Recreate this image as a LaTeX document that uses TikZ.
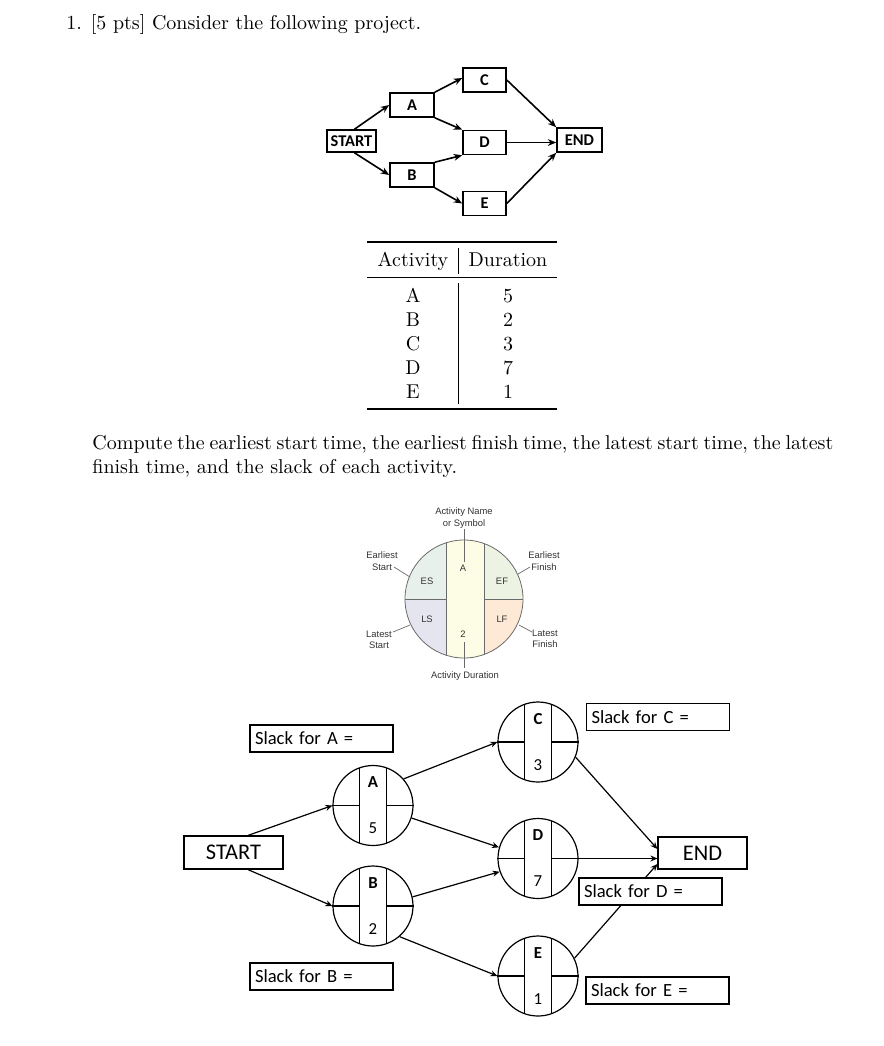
\documentclass[tikz,border=0pt]{standalone}
\usepackage{fontspec}
\newfontfamily\calib{Carlito}
\newfontfamily\arialf{Liberation Sans}
\usetikzlibrary{arrows.meta,calc}
\definecolor{esc}{HTML}{E7F0EA}
\definecolor{lsc}{HTML}{E5E5F0}
\definecolor{ctc}{HTML}{FDFDE6}
\definecolor{efc}{HTML}{EDF3E2}
\definecolor{lfc}{HTML}{FDE9D5}
\definecolor{legline}{HTML}{6A6A6A}
\definecolor{legtext}{HTML}{333333}
\newcommand\actcirc[5]{%
  \node[actc] (#1) at (#2,#3) {};
  \draw[thinl] ({#2-13.5},{#3-37.6}) -- ({#2-13.5},{#3+37.6});
  \draw[thinl] ({#2+13.5},{#3-37.6}) -- ({#2+13.5},{#3+37.6});
  \draw[thinl] (#1.west) -- ({#2-13.5},#3);
  \draw[thinl] ({#2+13.5},#3) -- (#1.east);
  \node[cletter] (#1n) at (#2,{#3-23}) {#4};
  \node[cnum] (#1d) at (#2,{#3+23}) {#5};
}
\begin{document}
\begin{tikzpicture}[x=0.5pt,y=-0.5pt,
  topbox/.style={draw, line width=0.8pt, minimum width=22pt, minimum height=12pt, inner sep=0pt, font=\calib\bfseries\fontsize{8.2}{9}\selectfont},
  tarrow/.style={line width=0.8pt, -{Stealth[length=4.2pt,width=3.4pt]}},
  botbox/.style={draw, line width=0.6pt, inner sep=0pt, font=\calib\fontsize{11.2}{13}\selectfont},
  slackbox/.style={draw, fill=white, line width=0.6pt, text width=66.5pt, inner xsep=2.5pt, inner ysep=0pt, minimum height=13.5pt, align=left, font=\calib\fontsize{9.3}{11}\selectfont},
  actc/.style={draw, circle, line width=0.6pt, minimum size=40pt, inner sep=0pt},
  thinl/.style={line width=0.55pt},
  cletter/.style={inner sep=0pt, font=\calib\bfseries\fontsize{8.4}{9}\selectfont},
  cnum/.style={inner sep=0pt, font=\calib\fontsize{8.4}{9}\selectfont},
  barrow/.style={line width=0.6pt, -{Stealth[length=3.5pt,width=3pt]}},
  legt/.style={inner sep=0pt, align=center, text=legtext, font=\arialf\fontsize{4.7}{5.7}\selectfont},
  legl/.style={draw=legline, line width=0.35pt},
  tabt/.style={anchor=base, inner sep=0pt},
]
\useasboundingbox (0,0) rectangle (884,1046);

% ---------- title ----------
\node[anchor=base west, inner sep=0pt] (title) at (66,29) {1. [5 pts] Consider the following project.};

% ---------- top network ----------
\node[topbox, minimum width=24.5pt, minimum height=11pt] (tS) at (351.5,141) {START};
\node[topbox] (tA) at (412,105) {A};
\node[topbox] (tB) at (412,175) {B};
\node[topbox, minimum width=21.5pt] (tC) at (484.5,80) {C};
\node[topbox, minimum width=21.5pt] (tD) at (484.5,142.5) {D};
\node[topbox, minimum width=21.5pt] (tE) at (484.5,203.5) {E};
\node[topbox, minimum width=22.5pt] (tEnd) at (579.5,140) {END};
\draw[tarrow] ($(tS.north)+(3,0)$) -- (tA.west);
\draw[tarrow] ($(tS.south)+(3,0)$) -- (tB.west);
\draw[tarrow] (tA.north east) -- ($(tC.west)+(0,-2)$);
\draw[tarrow] (tA.south east) -- (tD.north west);
\draw[tarrow] (tB.north east) -- (tD.south west);
\draw[tarrow] (tB.south east) -- (tE.west);
\draw[tarrow] (tC.east) -- (tEnd.north west);
\draw[tarrow] (tD.east) -- (tD.east -| tEnd.west);
\draw[tarrow] (tE.east) -- (tEnd.south west);

% ---------- table ----------
\draw[line width=0.8pt] (367,242) -- (557,242);
\draw[line width=0.5pt] (367,277) -- (557,277);
\draw[line width=0.8pt] (367,409) -- (557,409);
\draw[line width=0.4pt] (458,248) -- (458,274);
\draw[line width=0.4pt] (458,283) -- (458,404);
\node[tabt] (hAct) at (413,266) {Activity};
\node[tabt] (hDur) at (508,266) {Duration};
\node[tabt] (rA) at (413,302) {A};  \node[tabt] (dA) at (508,302) {5};
\node[tabt] (rB) at (413,326) {B};  \node[tabt] (dB) at (508,326) {2};
\node[tabt] (rC) at (413,350) {C};  \node[tabt] (dC) at (508,350) {3};
\node[tabt] (rD) at (413,374) {D};  \node[tabt] (dD) at (508,374) {7};
\node[tabt] (rE) at (413,398) {E};  \node[tabt] (dE) at (508,398) {1};

% ---------- paragraph ----------
\node[anchor=base west, inner sep=0pt] (p1) at (92,449) {\makebox[370.5pt][s]{Compute the earliest start time, the earliest finish time, the latest start time, the latest}};
\node[anchor=base west, inner sep=0pt] (p2) at (92,473) {finish time, and the slack of each activity.};

% ---------- legend circle ----------
\begin{scope}
  \clip (464,599) circle (59);
  \fill[esc] (400,535) rectangle (446,599);
  \fill[lsc] (400,599) rectangle (446,663);
  \fill[ctc] (446,535) rectangle (484,663);
  \fill[efc] (484,535) rectangle (528,599);
  \fill[lfc] (484,599) rectangle (528,663);
\end{scope}
\node[circle, draw=legline, line width=0.4pt, minimum size=59pt, inner sep=0pt] (leg) at (464,599) {};
\draw[legl] (446,{599-56.2}) -- (446,{599+56.2});
\draw[legl] (484,{599-55.5}) -- (484,{599+55.5});
\draw[legl] (leg.west) -- (446,599);
\draw[legl] (484,599) -- (leg.east);
\node[legt] (lA) at (463,568) {A};
\node[legt] (l2) at (463,634) {2};
\node[legt] (lES) at (427,581) {ES};
\node[legt] (lLS) at (427,619) {LS};
\node[legt] (lEF) at (502,581) {EF};
\node[legt] (lLF) at (502,619) {LF};
\node[legt] (lName) at (464,518) {Activity Name\\or Symbol};
\node[legt] (lDur) at (465,676) {Activity Duration};
\node[legt] (lESt) at (382,561) {Earliest\\Start};
\node[legt] (lEFt) at (544,561) {Earliest\\Finish};
\node[legt] (lLSt) at (379,640) {Latest\\Start};
\node[legt] (lLFt) at (545,639) {Latest\\Finish};
\draw[legl] (464,529) -- (464,562);
\draw[legl] (464,642) -- (464,668);
\draw[legl] (394,567) -- (410,577);
\draw[legl] (530,567) -- (518,574);
\draw[legl] (393,632) -- (410,625);
\draw[legl] (532,632) -- (519,625);

% ---------- bottom network ----------
\node[botbox, minimum width=49.5pt, minimum height=16.5pt] (bS) at (233.5,852.5) {START};
\node[botbox, minimum width=44.5pt, minimum height=16pt] (bEnd) at (702.5,853) {END};
\actcirc{bA}{373}{805.5}{A}{5}
\actcirc{bB}{373}{906}{B}{2}
\actcirc{bC}{538}{742}{C}{3}
\actcirc{bD}{538}{858.5}{D}{7}
\actcirc{bE}{538}{976}{E}{1}
\draw[barrow] ($(bS.north)+(14.5,0)$) -- (bA.west);
\draw[barrow] ($(bS.south)+(14.5,0)$) -- (bB.west);
\draw[barrow] (bA.41) -- (bC.west);
\draw[barrow] (bA.-18) -- (bD.164);
\draw[barrow] (bB.13) -- (bD.199);
\draw[barrow] (bB.-49) -- (bE.west);
\draw[barrow] (bC.-22) -- ($(bEnd.west)+(0,-4)$);
\draw[barrow] (bD.east) -- (bD.east -| bEnd.west);
\draw[barrow] (bE.26) -- ($(bEnd.west)+(0,11)$);
\node[slackbox] (sA) at (321.5,738.5) {Slack for A =};
\node[slackbox] (sB) at (321.5,976.5) {Slack for B =};
\node[slackbox] (sC) at (658,717) {Slack for C =};
\node[slackbox] (sD) at (650.5,891.5) {Slack for D =};
\node[slackbox] (sE) at (657.5,990.5) {Slack for E =};
\end{tikzpicture}
\end{document}
